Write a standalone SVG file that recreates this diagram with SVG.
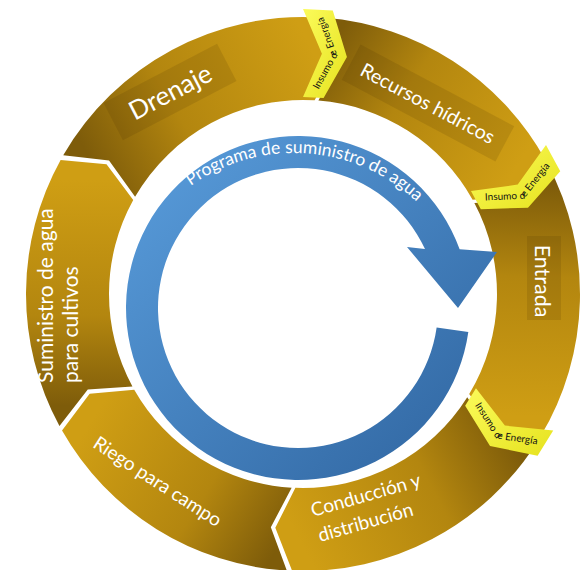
<svg xmlns="http://www.w3.org/2000/svg" width="585" height="570" viewBox="0 0 585 570">
<defs>
<style>
.lbl{font-family:Lato,"Open Sans","Liberation Sans",sans-serif;fill:#ffffff;}
.ins{font-family:Lato,"Open Sans","Liberation Sans",sans-serif;font-size:10px;fill:#141414;}
.prog{font-family:Lato,"Open Sans","Liberation Sans",sans-serif;font-size:17.5px;fill:#ffffff;}
.box{fill:#3c2800;fill-opacity:0.13;}
.yel{fill:url(#gY);}
</style>
<linearGradient id="gGold"><stop offset="0" stop-color="#7E5C0A"/><stop offset="0.4" stop-color="#B3860F"/><stop offset="1" stop-color="#CF9E14"/></linearGradient>
<linearGradient id="gRec" href="#gGold" gradientUnits="userSpaceOnUse" x1="321.68" y1="59.24" x2="508.87" y2="179.65"/>
<linearGradient id="gEnt" href="#gGold" gradientUnits="userSpaceOnUse" x1="511.03" y1="183.62" x2="504.76" y2="415.47"/>
<linearGradient id="gCon" href="#gGold" gradientUnits="userSpaceOnUse" x1="502.39" y1="419.32" x2="293.75" y2="529.32"/>
<linearGradient id="gRie" href="#gGold" gradientUnits="userSpaceOnUse" x1="289.24" y1="529.10" x2="98.13" y2="410.14"/>
<linearGradient id="gSum" href="#gGold" gradientUnits="userSpaceOnUse" x1="95.94" y1="406.19" x2="96.93" y2="180.01"/>
<linearGradient id="gDre" href="#gGold" gradientUnits="userSpaceOnUse" x1="99.15" y1="176.07" x2="317.17" y2="58.93"/>
<linearGradient id="gY" x1="0" y1="0" x2="1" y2="1"><stop offset="0" stop-color="#FBFB5A"/><stop offset="1" stop-color="#E6E21E"/></linearGradient>
<linearGradient id="gBlue" x1="0" y1="0" x2="1" y2="1"><stop offset="0" stop-color="#5A9EDD"/><stop offset="1" stop-color="#2E639E"/></linearGradient>
<path id="ip1" d="M315.91,94.42 L337.37,55.46 L321.26,11.59"/>
<path id="ip2" d="M479.92,200.72 L524.35,198.67 L553.34,162.01"/>
<path id="ip3" d="M472.05,400.87 L495.98,438.36 L542.21,445.22"/>
<path id="progPath" d="M165.24,207.66 A179,179 0 0 1 438.81,226.79"/>
</defs>
<rect width="585" height="570" fill="#ffffff"/>

<g id="node-recursos">
<path d="M324.97,17.87 A277,277 0 0 1 545.15,159.50 L517.21,196.15 L472.59,199.80 A194,194 0 0 0 318.39,100.61 L340.04,61.43 Z" fill="url(#gRec)"/>
<rect class="box" x="-87" y="-20" width="174" height="40" transform="translate(428 103) rotate(28)"/>
<text class="lbl" x="424.5" y="109.5" font-size="19.5" text-anchor="middle" transform="rotate(28 424.5 109.5)">Recursos hídricos</text>
</g>
<g id="node-entrada">
<path d="M547.69,164.17 A277,277 0 0 1 540.31,436.87 L494.60,430.92 L469.20,394.06 A194,194 0 0 0 474.37,203.07 L519.05,200.28 Z" fill="url(#gEnt)"/>
<rect class="box" x="527" y="236" width="34" height="84"/>
<text class="lbl" x="535" y="281" font-size="21.5" text-anchor="middle" transform="rotate(90 535 281)">Entrada</text>
</g>
<g id="node-conduccion">
<path d="M537.52,441.40 A277,277 0 0 1 292.12,570.79 L275.32,527.87 L295.38,487.85 A194,194 0 0 0 467.25,397.24 L491.94,434.57 Z" fill="url(#gCon)"/>
<text class="lbl" font-size="19" transform="translate(313 517) rotate(-16)"><tspan x="0" y="0">Conducción y</tspan><tspan x="0" y="26">distribución</tspan></text>
</g>
<g id="node-riego">
<path d="M286.81,570.53 A277,277 0 0 1 62.03,430.61 L89.65,393.71 L134.23,389.68 A194,194 0 0 0 291.66,487.67 L270.84,527.29 Z" fill="url(#gRie)"/>
<text class="lbl" x="154" y="487" font-size="19" text-anchor="middle" transform="rotate(33 154 487)">Riego para campo</text>
</g>
<g id="node-suministro">
<path d="M59.45,425.96 A277,277 0 0 1 60.61,159.92 L106.51,164.19 L133.24,200.09 A194,194 0 0 0 132.43,386.42 L87.78,389.60 Z" fill="url(#gSum)"/>
<text class="lbl" font-size="21" transform="translate(53 383) rotate(-90)"><tspan x="0" y="0">Suministro de agua</tspan><tspan x="0" y="25">para cultivos</tspan></text>
</g>
<g id="node-drenaje">
<path d="M63.23,155.29 A277,277 0 0 1 319.67,17.50 L335.57,60.76 L314.67,100.35 A194,194 0 0 0 135.08,196.85 L109.03,160.44 Z" fill="url(#gDre)"/>
<rect class="box" x="-64" y="-21" width="128" height="42" transform="translate(170 92) rotate(-27.5)"/>
<text class="lbl" x="174.5" y="100" font-size="26" text-anchor="middle" transform="rotate(-27.5 174.5 100)">Drenaje</text>
</g>

<g id="node-insumo-1">
<path class="yel" d="M303,9 L321.91,53.74 L303,97 L323.59,98.08 L346.92,57.04 L332.79,10.56 Z"/>
<text class="ins"><textPath href="#ip1" startOffset="50%" text-anchor="middle">Insumo de Energía</textPath></text>
</g>
<g id="node-insumo-2">
<path class="yel" d="M546.00,145.09 L517.73,184.59 L470.97,191.07 L480.81,209.19 L527.99,207.63 L560.24,171.30 Z"/>
<text class="ins"><textPath href="#ip2" startOffset="50%" text-anchor="middle">Insumo de Energía</textPath></text>
</g>
<g id="node-insumo-3">
<path class="yel" d="M553.22,430.43 L504.89,425.61 L475.96,388.30 L465.16,405.86 L490.03,445.99 L537.59,455.83 Z"/>
<text class="ins"><textPath href="#ip3" startOffset="50%" text-anchor="middle">Insumo de Energía</textPath></text>
</g>

<g id="connectors">
<path d="M468.33,331.94 A172,172 0 1 1 459.63,249.17 L497,252 L458,308 L407,247 L424.99,249.05 A140,140 0 1 0 436.64,327.48 Z" fill="url(#gBlue)"/>
</g>
<g id="node-programa">
<text class="prog"><textPath href="#progPath" startOffset="50%" text-anchor="middle">Programa de suministro de agua</textPath></text>
</g>
</svg>
